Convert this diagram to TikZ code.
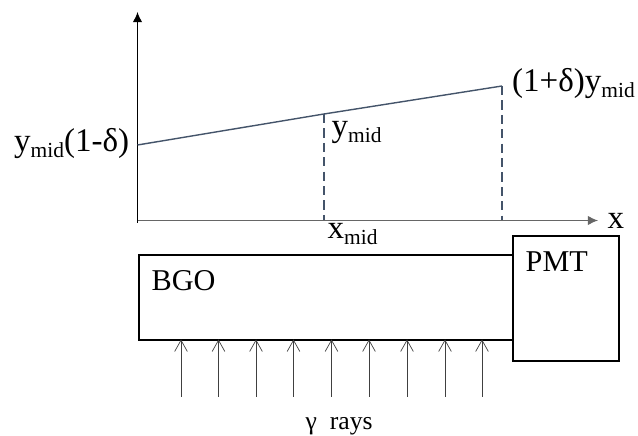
\documentclass[tikz,border=0pt]{standalone}
\usepackage{fontspec}
\usetikzlibrary{arrows.meta}
\setmainfont{Liberation Serif}
\definecolor{slateline}{RGB}{68,84,106}
\newcommand{\midsub}{\raisebox{-1.7pt}{\fontsize{6.1}{7}\selectfont mid}}
\tikzset{
  box/.style={draw,line width=0.45pt,anchor=north west,inner sep=0pt},
  lab/.style={inner sep=0pt,font=\fontsize{9.4}{11}\selectfont},
  axis/.style={line width=0.35pt,-{Latex[width=2.7pt,length=2.9pt]}},
  guide/.style={slateline,line width=0.3pt,dash pattern=on 2.6pt off 1.5pt},
  ray/.style={line width=0.25pt,black!75,-{Straight Barb[width=3.6pt,length=3.2pt,line width=0.2pt]}}
}
\begin{document}
\begin{tikzpicture}
\useasboundingbox (0,0) rectangle (6.38,4.36);
\coordinate (origin) at (1.375,2.155);
\coordinate (ytop) at (1.375,4.24);
\coordinate (xend) at (5.98,2.155);
\coordinate (lineleft) at (1.375,2.91);
\coordinate (linemid) at (3.24,3.22);
\coordinate (lineright) at (5.02,3.50);
\coordinate (footmid) at (3.24,2.155);
\coordinate (footright) at (5.02,2.155);
\draw [axis] (1.375,2.13) -- (ytop);
\draw [axis,black!60] (origin) -- (xend);
\draw [slateline,line width=0.4pt] (lineleft) -- (linemid) -- (lineright);
\draw [guide] (linemid) -- (footmid);
\draw [guide] (lineright) -- (footright);
\node [box,minimum width=3.74cm,minimum height=0.855cm] (bgo) at (1.38,1.82) {};
\node [box,minimum width=1.06cm,minimum height=1.245cm] (pmt) at (5.12,2.005) {};
\node [lab,anchor=base west,font=\fontsize{8.6}{10}\selectfont] (bgotext) at (1.51,1.45) {BGO};
\node [lab,anchor=base west,font=\fontsize{8.6}{10}\selectfont] (pmttext) at (5.25,1.64) {PMT};
\node [lab,anchor=base west] (ylow) at (0.135,2.84) {y\midsub(1-δ)};
\node [lab,anchor=base west] (ycentre) at (3.31,2.99) {y\midsub};
\node [lab,anchor=base west] (yhigh) at (5.115,3.44) {(1+δ)y\midsub};
\node [lab,anchor=base west] (xcentre) at (3.27,1.97) {x\midsub};
\node [lab,anchor=base west] (xlabel) at (6.07,2.07) {x};
\node [lab,anchor=base west,font=\fontsize{7.3}{9}\selectfont] (gammarays) at (3.05,0.06) {γ\ \ rays};
\foreach \i/\x in {1/1.81,2/2.185,3/2.56,4/2.935,5/3.315,6/3.69,7/4.07,8/4.45,9/4.82} {
  \coordinate (raybase\i) at (\x,0.39);
  \coordinate (raytip\i) at (\x,0.965);
  \draw [ray] (raybase\i) -- (raytip\i);
}
\end{tikzpicture}
\end{document}
